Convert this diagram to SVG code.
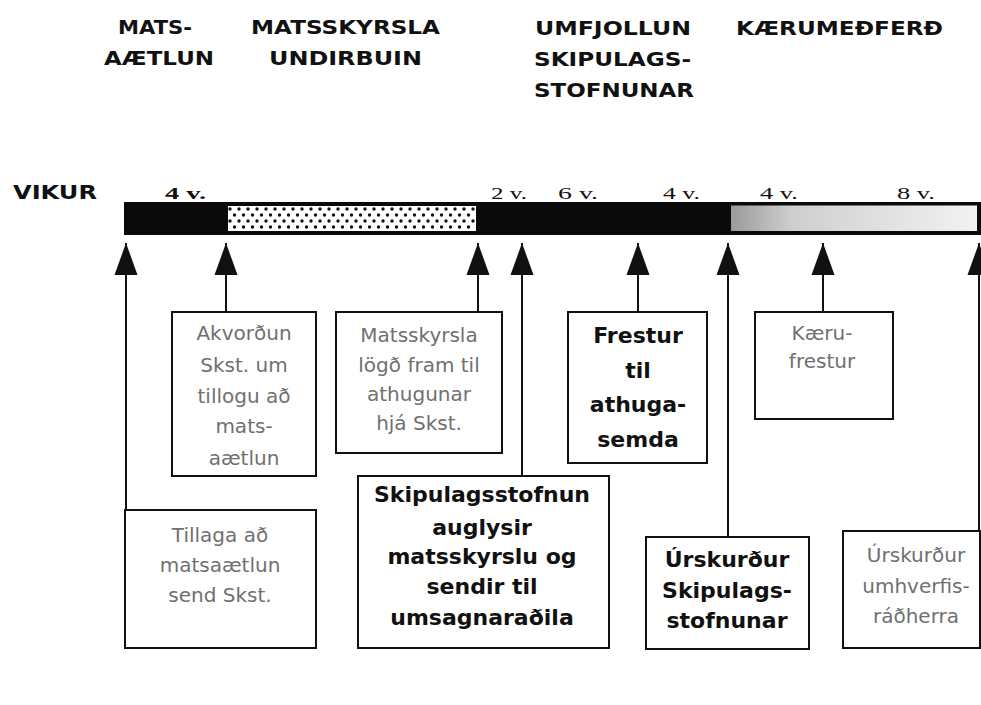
<svg xmlns="http://www.w3.org/2000/svg" width="981" height="705" viewBox="0 0 981 705">
<style>
.hd{font-family:"DejaVu Sans","Verdana",sans-serif;font-weight:bold;font-size:20px;fill:#111}
.wk{font-family:"Liberation Serif","Times New Roman",serif;font-size:17px;fill:#111}
.box{fill:#fff;stroke:#111;stroke-width:2}
.bt{font-family:"DejaVu Sans","Verdana",sans-serif;font-weight:bold;font-size:22px;fill:#111;text-anchor:middle}
.ft{font-family:"DejaVu Sans","Verdana",sans-serif;font-size:20px;fill:#707070;text-anchor:middle}
.ln{stroke:#111;stroke-width:2;fill:none}
</style>
<defs>
<pattern id="dots" width="9" height="12" patternUnits="userSpaceOnUse" x="228" y="206">
<rect width="9" height="12" fill="#fff"/>
<circle cx="2" cy="3" r="1.7" fill="#111"/>
<circle cx="6.5" cy="9" r="1.7" fill="#111"/>
</pattern>
<linearGradient id="gr" x1="0" x2="1" y1="0" y2="0">
<stop offset="0" stop-color="#9a9a9a"/>
<stop offset="0.25" stop-color="#cfcfcf"/>
<stop offset="1" stop-color="#f2f2f2"/>
</linearGradient>
<marker id="ah" viewBox="0 0 24 32" refX="12" refY="0" markerWidth="24" markerHeight="32" markerUnits="userSpaceOnUse" orient="0">
<path d="M12 0 L23.5 32 L0.5 32 Z" fill="#111"/>
</marker>
</defs>

<g id="headers">
<text class="hd" x="118" y="34" textLength="74" lengthAdjust="spacingAndGlyphs">MATS-</text>
<text class="hd" x="104" y="65" textLength="110" lengthAdjust="spacingAndGlyphs">AÆTLUN</text>
<text class="hd" x="251" y="34" textLength="189" lengthAdjust="spacingAndGlyphs">MATSSKYRSLA</text>
<text class="hd" x="269" y="65" textLength="153" lengthAdjust="spacingAndGlyphs">UNDIRBUIN</text>
<text class="hd" x="535" y="35" textLength="156" lengthAdjust="spacingAndGlyphs">UMFJOLLUN</text>
<text class="hd" x="534" y="66" textLength="157" lengthAdjust="spacingAndGlyphs">SKIPULAGS-</text>
<text class="hd" x="534" y="97" textLength="160" lengthAdjust="spacingAndGlyphs">STOFNUNAR</text>
<text class="hd" x="736" y="35" textLength="207" lengthAdjust="spacingAndGlyphs">KÆRUMEÐFERÐ</text>
</g>

<g id="timeline">
<text class="hd" x="13" y="199" font-size="19" textLength="84" lengthAdjust="spacingAndGlyphs">VIKUR</text>
<text class="wk" x="165" y="199" font-weight="bold" textLength="41" lengthAdjust="spacingAndGlyphs">4 v.</text>
<text class="wk" x="491" y="199" textLength="36" lengthAdjust="spacingAndGlyphs">2 v.</text>
<text class="wk" x="558" y="199" textLength="40" lengthAdjust="spacingAndGlyphs">6 v.</text>
<text class="wk" x="663" y="199" textLength="37" lengthAdjust="spacingAndGlyphs">4 v.</text>
<text class="wk" x="760" y="199" textLength="38" lengthAdjust="spacingAndGlyphs">4 v.</text>
<text class="wk" x="897" y="199" textLength="38" lengthAdjust="spacingAndGlyphs">8 v.</text>
<rect x="124" y="202" width="857" height="33" fill="#0a0a0a"/>
<rect x="228" y="206" width="248" height="25" fill="url(#dots)"/>
<rect x="731" y="205.5" width="246" height="25.5" fill="url(#gr)"/>
</g>

<g id="connectors">
<line class="ln" x1="126" y1="243" x2="126" y2="510" marker-start="url(#ah)"/>
<line class="ln" x1="226" y1="243" x2="226" y2="312" marker-start="url(#ah)"/>
<line class="ln" x1="478" y1="243" x2="478" y2="312" marker-start="url(#ah)"/>
<line class="ln" x1="522" y1="243" x2="522" y2="476" marker-start="url(#ah)"/>
<line class="ln" x1="638" y1="243" x2="638" y2="312" marker-start="url(#ah)"/>
<line class="ln" x1="728" y1="243" x2="728" y2="537" marker-start="url(#ah)"/>
<line class="ln" x1="823" y1="243" x2="823" y2="312" marker-start="url(#ah)"/>
<line class="ln" x1="979" y1="243" x2="979" y2="531" marker-start="url(#ah)"/>
</g>

<g id="akvordun">
<rect class="box" x="172" y="312" width="144" height="164"/>
<text class="ft" x="244" y="340">Akvorðun</text>
<text class="ft" x="244" y="372">Skst. um</text>
<text class="ft" x="244" y="403">tillogu að</text>
<text class="ft" x="244" y="433">mats-</text>
<text class="ft" x="244" y="465">aætlun</text>
</g>

<g id="matsskyrsla">
<rect class="box" x="336" y="312" width="166" height="141"/>
<text class="ft" x="419" y="342">Matsskyrsla</text>
<text class="ft" x="419" y="372">lögð fram til</text>
<text class="ft" x="419" y="401">athugunar</text>
<text class="ft" x="419" y="430">hjá Skst.</text>
</g>

<g id="frestur">
<rect class="box" x="568" y="312" width="139" height="151"/>
<text class="bt" x="638" y="343" font-size="23">Frestur</text>
<text class="bt" x="638" y="378" font-size="23">til</text>
<text class="bt" x="638" y="412" font-size="23">athuga-</text>
<text class="bt" x="638" y="447" font-size="23">semda</text>
</g>

<g id="kaerufrestur">
<rect class="box" x="755" y="312" width="138" height="107"/>
<text class="ft" x="822" y="340">Kæru-</text>
<text class="ft" x="822" y="368">frestur</text>
</g>

<g id="tillaga">
<rect class="box" x="125" y="510" width="191" height="138"/>
<text class="ft" x="220" y="542">Tillaga að</text>
<text class="ft" x="220" y="572">matsaætlun</text>
<text class="ft" x="220" y="602">send Skst.</text>
</g>

<g id="skipulagsstofnun">
<rect class="box" x="358" y="476" width="251" height="172"/>
<text class="bt" x="482" y="502">Skipulagsstofnun</text>
<text class="bt" x="482" y="535">auglysir</text>
<text class="bt" x="482" y="564">matsskyrslu og</text>
<text class="bt" x="482" y="594">sendir til</text>
<text class="bt" x="482" y="625">umsagnaraðila</text>
</g>

<g id="urskurdur-skst">
<rect class="box" x="646" y="537" width="163" height="112"/>
<text class="bt" x="727" y="567">Úrskurður</text>
<text class="bt" x="727" y="598">Skipulags-</text>
<text class="bt" x="727" y="628">stofnunar</text>
</g>

<g id="urskurdur-raduneyti">
<rect class="box" x="843" y="531" width="137" height="117"/>
<text class="ft" x="916" y="562">Úrskurður</text>
<text class="ft" x="916" y="593">umhverfis-</text>
<text class="ft" x="916" y="623">ráðherra</text>
</g>
</svg>
